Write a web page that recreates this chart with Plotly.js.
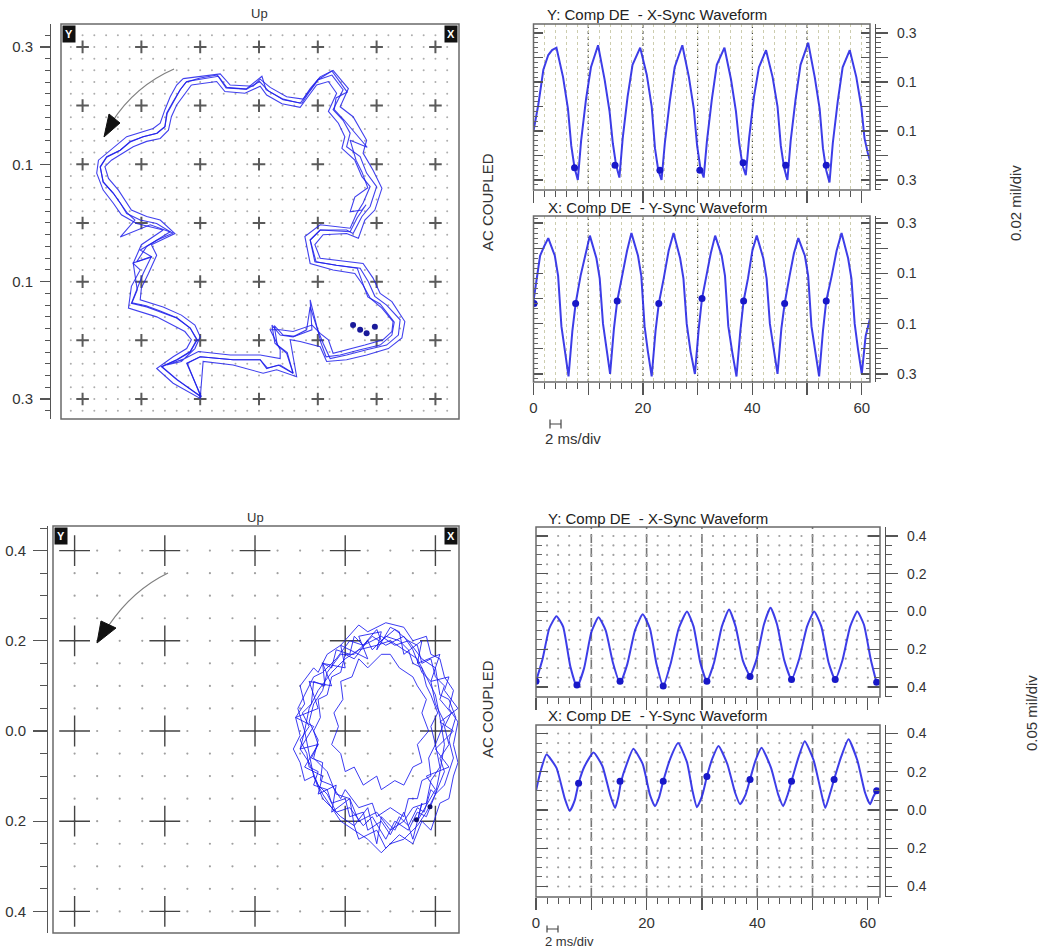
<!DOCTYPE html>
<html><head><meta charset="utf-8">
<script src="https://cdn.plot.ly/plotly-3.0.1.min.js"></script>
<style>html,body{margin:0;padding:0;background:#fff}#chart{width:1044px;height:949px}</style>
</head><body><div id="chart"></div>
<script>
// ================= DATA =================
// Top orbit (0.02 mil/div) - four overlapping laps
const orbitTopAx = [-0.123,-0.095,-0.069,-0.055,-0.021,0.001,0.016,0.041,0.073,0.084,0.101,0.124,0.143,0.126,0.143,0.155,0.149,0.172,0.183,0.200,0.189,0.175,0.160,0.149,0.104,0.087,0.095,0.132,0.172,0.186,0.197,0.217,0.240,0.237,0.217,0.183,0.149,0.121,0.109,0.098,0.087,0.081,0.058,0.036,0.022,0.027,0.047,0.058,0.033,0.013,0.002,-0.044,-0.100,-0.123,-0.098,-0.140,-0.166,-0.140,-0.117,-0.106,-0.117,-0.140,-0.168,-0.191,-0.217,-0.208,-0.197,-0.183,-0.208,-0.191,-0.174,-0.151,-0.174,-0.202,-0.225,-0.236,-0.248,-0.265,-0.270,-0.259,-0.236,-0.219,-0.197,-0.174,-0.160,-0.157,-0.146,-0.134,-0.123];
const orbitTopAy = [0.241,0.245,0.250,0.231,0.228,0.241,0.225,0.210,0.204,0.221,0.244,0.252,0.227,0.193,0.175,0.153,0.130,0.113,0.085,0.062,0.028,0.011,-0.018,-0.012,-0.012,-0.029,-0.066,-0.072,-0.077,-0.100,-0.125,-0.140,-0.165,-0.191,-0.208,-0.216,-0.225,-0.231,-0.205,-0.177,-0.143,-0.182,-0.194,-0.191,-0.174,-0.205,-0.222,-0.256,-0.242,-0.248,-0.233,-0.233,-0.228,-0.239,-0.296,-0.267,-0.245,-0.233,-0.219,-0.199,-0.179,-0.162,-0.151,-0.143,-0.137,-0.114,-0.086,-0.057,-0.066,-0.040,-0.029,-0.015,-0.001,0.005,0.016,0.034,0.051,0.070,0.096,0.113,0.124,0.139,0.147,0.153,0.164,0.187,0.207,0.227,0.241];
const orbitTopBx = [-0.129,-0.100,-0.066,-0.049,-0.010,0.002,0.019,0.047,0.075,0.087,0.104,0.126,0.152,0.138,0.160,0.183,0.177,0.194,0.209,0.197,0.180,0.169,0.149,0.109,0.095,0.104,0.177,0.194,0.206,0.226,0.248,0.243,0.220,0.183,0.149,0.115,0.104,0.070,0.053,0.064,0.030,0.007,-0.044,-0.095,-0.100,-0.146,-0.174,-0.146,-0.123,-0.115,-0.126,-0.174,-0.222,-0.217,-0.202,-0.214,-0.200,-0.163,-0.208,-0.234,-0.248,-0.265,-0.276,-0.273,-0.245,-0.225,-0.180,-0.168,-0.160,-0.151,-0.140,-0.129];
const orbitTopBy = [0.246,0.250,0.254,0.235,0.233,0.245,0.231,0.215,0.211,0.229,0.249,0.260,0.229,0.198,0.181,0.141,0.119,0.090,0.059,0.022,0.005,-0.026,-0.018,-0.020,-0.037,-0.060,-0.069,-0.094,-0.120,-0.134,-0.168,-0.196,-0.214,-0.225,-0.233,-0.236,-0.211,-0.202,-0.199,-0.262,-0.250,-0.256,-0.242,-0.236,-0.299,-0.273,-0.248,-0.228,-0.214,-0.199,-0.185,-0.160,-0.145,-0.108,-0.080,-0.069,-0.037,-0.012,-0.001,0.014,0.034,0.056,0.085,0.107,0.130,0.147,0.161,0.170,0.193,0.215,0.235,0.246];
const orbitTopCx = [-0.115,-0.089,-0.072,-0.058,-0.024,0.002,0.013,0.039,0.070,0.081,0.098,0.118,0.132,0.118,0.135,0.146,0.141,0.163,0.175,0.189,0.177,0.166,0.155,0.104,0.078,0.087,0.126,0.163,0.177,0.189,0.209,0.228,0.226,0.211,0.180,0.126,0.118,0.104,0.090,0.058,0.036,0.019,0.036,0.036,0.002,-0.049,-0.103,-0.126,-0.157,-0.132,-0.109,-0.100,-0.109,-0.132,-0.163,-0.202,-0.200,-0.188,-0.174,-0.183,-0.143,-0.168,-0.191,-0.217,-0.228,-0.239,-0.256,-0.262,-0.251,-0.231,-0.214,-0.191,-0.168,-0.154,-0.149,-0.140,-0.126,-0.115];
const orbitTopCy = [0.235,0.238,0.241,0.224,0.221,0.233,0.218,0.203,0.197,0.212,0.235,0.241,0.221,0.190,0.170,0.147,0.127,0.107,0.079,0.062,0.034,0.016,-0.009,-0.003,-0.023,-0.069,-0.080,-0.086,-0.106,-0.128,-0.145,-0.168,-0.185,-0.199,-0.208,-0.222,-0.199,-0.188,-0.174,-0.185,-0.182,-0.182,-0.216,-0.231,-0.225,-0.225,-0.219,-0.231,-0.242,-0.236,-0.214,-0.194,-0.174,-0.157,-0.143,-0.131,-0.111,-0.086,-0.055,-0.037,-0.018,0.005,0.011,0.022,0.039,0.056,0.076,0.096,0.107,0.119,0.130,0.139,0.144,0.158,0.181,0.201,0.221,0.235];
const orbitTopDx = [-0.124,-0.100,-0.071,-0.056,-0.022,-0.002,0.005,0.012,0.041,0.070,0.083,0.100,0.124,0.150,0.131,0.128,0.145,0.184,0.155,0.165,0.175,0.185,0.163,0.155,0.175,0.182,0.167,0.155,0.104,0.087,0.097,0.131,0.167,0.175,0.185,0.206,0.230,0.226,0.206,0.172,0.138,0.114,0.105,0.087,0.090,0.061,0.041,0.026,0.031,0.048,0.058,0.036,0.014,0.002,-0.044,-0.100,-0.122,-0.099,-0.139,-0.165,-0.139,-0.117,-0.105,-0.117,-0.139,-0.168,-0.192,-0.216,-0.207,-0.214,-0.182,-0.202,-0.173,-0.146,-0.185,-0.236,-0.211,-0.224,-0.236,-0.248,-0.265,-0.270,-0.259,-0.236,-0.219,-0.197,-0.173,-0.160,-0.156,-0.146,-0.134,-0.124];
const orbitTopDy = [0.240,0.247,0.252,0.230,0.228,0.244,0.250,0.227,0.211,0.204,0.221,0.244,0.259,0.223,0.213,0.193,0.175,0.129,0.141,0.107,0.087,0.060,0.044,0.019,0.022,0.031,0.009,-0.015,-0.012,-0.029,-0.066,-0.072,-0.077,-0.099,-0.126,-0.138,-0.169,-0.191,-0.208,-0.216,-0.225,-0.228,-0.203,-0.131,-0.182,-0.193,-0.191,-0.175,-0.208,-0.221,-0.256,-0.242,-0.247,-0.233,-0.233,-0.228,-0.239,-0.296,-0.267,-0.245,-0.233,-0.220,-0.199,-0.179,-0.162,-0.150,-0.141,-0.136,-0.114,-0.068,-0.058,-0.046,-0.029,-0.017,-0.003,-0.024,0.005,0.017,0.034,0.051,0.070,0.095,0.112,0.124,0.138,0.147,0.153,0.164,0.187,0.206,0.227,0.240];
const orbitTopDotX = [0.160,0.172,0.183,0.197];
const orbitTopDotY = [-0.174,-0.182,-0.188,-0.177];

// Bottom orbit (0.05 mil/div) - overlapping noisy laps
const orbitBot1x = [0.31,0.28,0.27,0.24,0.22,0.21,0.18,0.17,0.15,0.155,0.13,0.125,0.105,0.12,0.10,0.115,0.12,0.14,0.13,0.16,0.17,0.20,0.21,0.24,0.25,0.28,0.30,0.32,0.34,0.36,0.375,0.39,0.40,0.42,0.41,0.43,0.42,0.435,0.41,0.42,0.40,0.39,0.37,0.36,0.34,0.31];
const orbitBot1y = [0.225,0.20,0.225,0.19,0.21,0.17,0.18,0.14,0.15,0.10,0.11,0.06,0.04,0.01,-0.02,-0.05,-0.08,-0.09,-0.12,-0.13,-0.16,-0.15,-0.19,-0.18,-0.22,-0.20,-0.23,-0.19,-0.21,-0.17,-0.18,-0.13,-0.14,-0.09,-0.06,-0.03,0.01,0.04,0.07,0.10,0.12,0.16,0.15,0.19,0.20,0.225];
const orbitBot2x = [0.29,0.25,0.23,0.20,0.19,0.16,0.14,0.13,0.10,0.11,0.09,0.10,0.085,0.10,0.11,0.13,0.15,0.17,0.19,0.22,0.23,0.27,0.29,0.32,0.35,0.37,0.39,0.41,0.43,0.44,0.45,0.44,0.45,0.43,0.44,0.42,0.41,0.39,0.38,0.35,0.33,0.29];
const orbitBot2y = [0.24,0.22,0.235,0.20,0.19,0.17,0.13,0.14,0.10,0.06,0.03,-0.01,-0.04,-0.07,-0.11,-0.10,-0.15,-0.17,-0.19,-0.21,-0.24,-0.22,-0.26,-0.23,-0.25,-0.20,-0.22,-0.16,-0.15,-0.10,-0.07,-0.03,0.02,0.05,0.09,0.12,0.16,0.17,0.21,0.20,0.23,0.24];
const orbitBot3x = [0.32,0.29,0.26,0.25,0.22,0.20,0.19,0.17,0.16,0.14,0.145,0.13,0.14,0.125,0.15,0.145,0.17,0.19,0.20,0.23,0.26,0.27,0.30,0.33,0.34,0.36,0.37,0.39,0.385,0.40,0.39,0.405,0.39,0.38,0.37,0.35,0.34,0.32];
const orbitBot3y = [0.20,0.21,0.18,0.20,0.16,0.17,0.13,0.12,0.08,0.07,0.03,0.00,-0.03,-0.06,-0.07,-0.11,-0.12,-0.15,-0.13,-0.17,-0.16,-0.19,-0.17,-0.19,-0.15,-0.15,-0.11,-0.10,-0.06,-0.03,0.01,0.04,0.08,0.10,0.14,0.15,0.18,0.20];
const orbitBot4x = [0.28,0.24,0.21,0.18,0.15,0.13,0.11,0.095,0.11,0.10,0.12,0.14,0.16,0.18,0.21,0.24,0.26,0.29,0.31,0.34,0.36,0.38,0.40,0.42,0.44,0.43,0.445,0.43,0.41,0.40,0.37,0.34,0.31,0.28];
const orbitBot4y = [0.21,0.19,0.20,0.16,0.13,0.12,0.08,0.05,0.00,-0.04,-0.07,-0.12,-0.14,-0.18,-0.17,-0.21,-0.19,-0.24,-0.20,-0.22,-0.18,-0.19,-0.14,-0.12,-0.06,-0.02,0.03,0.07,0.08,0.14,0.16,0.20,0.19,0.21];
const orbitBot5x = [0.30,0.27,0.28,0.23,0.25,0.19,0.20,0.15,0.17,0.12,0.14,0.09,0.13,0.10,0.14,0.11,0.15,0.14,0.18,0.17,0.21,0.22,0.25,0.27,0.28,0.31,0.33,0.35,0.37,0.36,0.40,0.38,0.43,0.40,0.44,0.41,0.45,0.42,0.43,0.39,0.41,0.36,0.37,0.33,0.32,0.30];
const orbitBot5y = [0.23,0.18,0.22,0.21,0.16,0.19,0.14,0.15,0.10,0.11,0.05,0.03,0.01,-0.04,-0.03,-0.08,-0.10,-0.14,-0.12,-0.18,-0.15,-0.21,-0.17,-0.25,-0.19,-0.22,-0.18,-0.24,-0.16,-0.20,-0.13,-0.10,-0.08,-0.04,0.00,0.02,0.05,0.09,0.12,0.11,0.17,0.15,0.20,0.17,0.22,0.23];
const orbitBot6x = [0.28,0.25,0.23,0.215,0.19,0.195,0.175,0.185,0.17,0.19,0.20,0.22,0.24,0.27,0.28,0.31,0.33,0.35,0.37,0.36,0.385,0.37,0.38,0.36,0.35,0.32,0.30,0.28];
const orbitBot6y = [0.17,0.14,0.16,0.12,0.11,0.07,0.04,0.01,-0.03,-0.05,-0.09,-0.08,-0.12,-0.10,-0.13,-0.11,-0.12,-0.08,-0.07,-0.03,0.00,0.04,0.07,0.10,0.12,0.14,0.17,0.17];
const orbitBot7x = [0.27,0.23,0.20,0.17,0.14,0.12,0.11,0.12,0.13,0.15,0.17,0.19,0.22,0.25,0.28,0.30,0.33,0.36,0.38,0.40,0.41,0.42,0.41,0.40,0.38,0.36,0.33,0.30,0.27];
const orbitBot7y = [0.19,0.18,0.16,0.13,0.09,0.05,0.00,-0.05,-0.10,-0.14,-0.17,-0.20,-0.22,-0.24,-0.27,-0.25,-0.24,-0.21,-0.18,-0.14,-0.09,-0.03,0.03,0.08,0.12,0.16,0.18,0.20,0.19];
const orbitBot8x = [0.33,0.29,0.26,0.22,0.19,0.16,0.15,0.13,0.12,0.14,0.13,0.16,0.18,0.21,0.23,0.27,0.30,0.33,0.35,0.38,0.39,0.41,0.40,0.42,0.40,0.39,0.37,0.35,0.33];
const orbitBot8y = [0.21,0.19,0.21,0.17,0.17,0.13,0.09,0.06,0.02,-0.02,-0.06,-0.09,-0.14,-0.15,-0.20,-0.18,-0.22,-0.20,-0.17,-0.16,-0.11,-0.08,-0.03,0.02,0.06,0.11,0.13,0.18,0.21];
const orbitBotDotX = [0.358,0.388];
const orbitBotDotY = [-0.197,-0.168];

// Top waveforms (time in ms)
const wTopY_t = [0,0.9,1.8,2.7,3.4,4.2,5.4,6.3,6.9,7.5,8.1,8.7,9.6,10.5,11.8,13.0,13.9,14.5,15.1,15.7,16.3,17.2,18.1,19.5,20.7,21.6,22.2,22.8,23.4,24.0,24.9,25.8,27.2,28.4,29.3,29.9,30.5,31.1,31.7,32.6,33.5,34.9,36.1,37.0,37.6,38.2,38.8,39.4,40.3,41.2,42.5,43.7,44.6,45.2,45.8,46.4,47.0,47.9,48.8,50.2,51.4,52.3,52.9,53.5,54.1,54.7,55.6,56.5,57.8,59.0,59.9,60.5,61.1,61.5];
const wTopY_v = [-0.10,0.01,0.15,0.21,0.23,0.24,0.12,-0.01,-0.16,-0.25,-0.30,-0.14,0.03,0.16,0.25,0.11,-0.02,-0.15,-0.24,-0.29,-0.13,0.04,0.17,0.24,0.13,0.00,-0.17,-0.26,-0.30,-0.15,0.02,0.16,0.25,0.12,-0.01,-0.16,-0.25,-0.29,-0.14,0.03,0.17,0.24,0.11,-0.02,-0.15,-0.24,-0.28,-0.13,0.04,0.16,0.23,0.12,0.00,-0.16,-0.25,-0.30,-0.14,0.03,0.17,0.26,0.12,-0.01,-0.17,-0.26,-0.31,-0.15,0.02,0.16,0.23,0.12,0.00,-0.13,-0.19,-0.22];
const wTopY_dotT = [7.5,14.9,23.1,30.4,38.3,46.1,53.5];
const wTopY_dotV = [-0.25,-0.24,-0.26,-0.26,-0.23,-0.24,-0.24];

const wTopX_t = [0,0.6,1.2,2.0,2.7,3.9,4.5,5.1,5.7,6.4,7.1,7.7,8.6,9.5,10.3,11.5,12.1,12.7,13.3,14.0,14.7,15.3,16.2,17.1,17.9,19.1,19.7,20.3,20.9,21.6,22.3,22.9,23.8,24.7,25.6,26.8,27.4,28.0,28.7,29.5,30.2,30.8,31.6,32.4,33.2,34.4,35.0,35.6,36.3,37.1,37.8,38.4,39.2,40.0,40.8,42.0,42.6,43.2,43.9,44.6,45.3,45.9,46.8,47.6,48.4,49.6,50.2,50.8,51.5,52.2,52.9,53.5,54.5,55.4,56.3,57.5,58.1,58.7,59.3,60.0,60.7,61.5];
const wTopX_v = [-0.01,0.08,0.17,0.21,0.24,0.17,0.09,-0.11,-0.21,-0.31,-0.13,-0.02,0.09,0.18,0.25,0.16,0.08,-0.10,-0.20,-0.30,-0.12,-0.01,0.09,0.19,0.26,0.17,0.09,-0.11,-0.21,-0.31,-0.13,-0.02,0.08,0.19,0.26,0.16,0.08,-0.10,-0.21,-0.30,-0.12,0.00,0.09,0.18,0.25,0.17,0.09,-0.11,-0.21,-0.31,-0.13,-0.01,0.08,0.19,0.25,0.16,0.08,-0.10,-0.20,-0.30,-0.12,-0.02,0.09,0.18,0.24,0.17,0.09,-0.11,-0.21,-0.31,-0.13,-0.01,0.09,0.19,0.26,0.16,0.08,-0.10,-0.20,-0.30,-0.15,-0.08];
const wTopX_dotT = [0.1,7.7,15.3,22.9,30.8,38.4,45.9,53.5];
const wTopX_dotV = [-0.02,-0.02,-0.01,-0.02,0.00,-0.01,-0.02,-0.01];

// Bottom waveforms
const wBotY_t = [0,1.2,2.4,3.7,4.9,6.2,7.4,8.7,10.0,11.3,12.6,13.9,15.2,16.5,17.9,19.3,20.6,21.8,23.0,24.4,25.8,27.3,28.5,29.7,30.9,32.2,33.6,34.9,36.1,37.4,38.7,39.9,41.2,42.4,43.6,44.9,46.2,47.6,49.0,50.3,51.6,52.9,54.1,55.4,56.8,58.1,59.3,60.5,61.6];
const wBotY_v = [-0.37,-0.25,-0.09,-0.025,-0.08,-0.29,-0.40,-0.30,-0.11,-0.03,-0.10,-0.27,-0.38,-0.28,-0.10,-0.015,-0.09,-0.28,-0.395,-0.27,-0.09,0.0,-0.08,-0.27,-0.37,-0.27,-0.08,0.01,-0.08,-0.26,-0.34,-0.25,-0.07,0.02,-0.07,-0.26,-0.36,-0.25,-0.08,0.0,-0.08,-0.27,-0.36,-0.26,-0.08,0.0,-0.07,-0.25,-0.38];
const wBotY_dotT = [0,7.4,15.2,23.0,30.9,38.7,46.2,54.1,61.6];
const wBotY_dotV = [-0.37,-0.39,-0.37,-0.395,-0.37,-0.345,-0.36,-0.36,-0.375];

const wBotX_t = [0,0.8,1.9,3.7,5.2,6.1,7.0,7.7,8.8,10.4,12.0,13.4,14.3,14.9,15.4,16.4,17.6,19.3,20.6,21.5,22.3,23.0,24.3,25.7,27.3,28.3,29.1,30.1,30.9,31.9,33.0,34.6,36.0,36.9,37.9,38.7,39.7,40.8,42.5,43.8,44.7,45.5,46.2,47.4,48.6,50.2,51.5,52.3,53.2,53.9,55.2,56.5,58.1,59.5,60.4,61.0,61.6];
const wBotX_v = [0.10,0.20,0.29,0.22,0.06,-0.005,0.05,0.14,0.23,0.30,0.23,0.08,0.01,0.07,0.15,0.24,0.32,0.24,0.08,0.02,0.07,0.15,0.27,0.35,0.25,0.10,0.015,0.08,0.175,0.27,0.335,0.24,0.09,0.03,0.08,0.16,0.26,0.325,0.22,0.08,0.02,0.08,0.15,0.27,0.36,0.26,0.10,0.01,0.09,0.16,0.28,0.37,0.26,0.09,0.03,0.07,0.10];
const wBotX_dotT = [7.7,15.2,23.0,30.9,38.7,46.2,53.9,61.6];
const wBotX_dotV = [0.14,0.15,0.15,0.175,0.16,0.15,0.16,0.10];

// Tick labels / divisions
const topOrbitTickVals = [0.3,0.1,-0.1,-0.3];
const topOrbitTickText = ['0.3','0.1','0.1','0.3'];
const botOrbitTickVals = [0.4,0.2,0,-0.2,-0.4];
const botOrbitTickText = ['0.4','0.2','0.0','0.2','0.4'];
const topWaveTickVals = [0.3,0.2,0.1,0,-0.1,-0.2,-0.3];
const topWaveTickText = ['0.3','','0.1','','0.1','','0.3'];
const botWaveTickVals = [0.4,0.2,0,-0.2,-0.4];
const botWaveTickText = ['0.4','0.2','0.0','0.2','0.4'];
const timeTickVals = [0,10,20,30,40,50,60];
const timeTickText = ['0','','20','','40','','60'];
const timeDivLines = [10,20,30,40,50];

// ================= LAYOUT HELPERS =================
const W = 1044, H = 949;
const domX = (a, b) => [a / W, b / W];
const domY = (top, bot) => [1 - bot / H, 1 - top / H];
const px = (x, y) => (x / W).toFixed(5) + ',' + (1 - y / H).toFixed(5);
const FONT = 'Liberation Sans, Arial, sans-serif';
const AX = '#555';

// decoration grids (built from the division steps)
function lattice(lo, hi, step) {
  const xs = [], ys = [];
  const n = Math.round((hi - lo) / step);
  for (let i = 0; i <= n; i++) for (let j = 0; j <= n; j++) { xs.push(lo + i * step); ys.push(lo + j * step); }
  return [xs, ys];
}
function lattice2(x0, x1, xs, y0, y1, ys) {
  const X = [], Y = [];
  const nx = Math.round((x1 - x0) / xs), ny = Math.round((y1 - y0) / ys);
  for (let i = 0; i <= nx; i++) for (let j = 0; j <= ny; j++) { X.push(x0 + i * xs); Y.push(y0 + j * ys); }
  return [X, Y];
}
const [topDotsX, topDotsY] = lattice(-0.32, 0.32, 0.02);
const [topCrossX, topCrossY] = lattice(-0.3, 0.3, 0.1);
const [botDotsX, botDotsY] = lattice(-0.4, 0.4, 0.05);
const [botCrossX, botCrossY] = lattice(-0.4, 0.4, 0.2);
const [wDotsX, wDotsY] = lattice2(2, 60, 2, -0.4, 0.4, 0.05);

const traces = [];
// top orbit
traces.push({x: topDotsX, y: topDotsY, xaxis: 'x', yaxis: 'y', mode: 'markers', marker: {size: 2, color: '#adadad'}, hoverinfo: 'skip'});
traces.push({x: topCrossX, y: topCrossY, xaxis: 'x', yaxis: 'y', mode: 'markers', marker: {symbol: 'cross-thin', size: 9, line: {width: 2, color: '#5a5a5a'}}, hoverinfo: 'skip'});
[[orbitTopBx, orbitTopBy], [orbitTopAx, orbitTopAy], [orbitTopCx, orbitTopCy], [orbitTopDx, orbitTopDy]].forEach(([xx, yy]) =>
  traces.push({x: xx, y: yy, xaxis: 'x', yaxis: 'y', mode: 'lines', line: {color: 'rgba(30,30,235,0.85)', width: 1.1}, hoverinfo: 'skip'}));
traces.push({x: orbitTopDotX, y: orbitTopDotY, xaxis: 'x', yaxis: 'y', mode: 'markers', marker: {size: 6, color: '#1a1a9a'}, hoverinfo: 'skip'});
// bottom orbit
traces.push({x: botDotsX, y: botDotsY, xaxis: 'x4', yaxis: 'y4', mode: 'markers', marker: {size: 2.2, color: '#a0a0a0'}, hoverinfo: 'skip'});
traces.push({x: botCrossX, y: botCrossY, xaxis: 'x4', yaxis: 'y4', mode: 'markers', marker: {symbol: 'cross-thin', size: 22, line: {width: 1.4, color: '#444'}}, hoverinfo: 'skip'});
[[orbitBot1x, orbitBot1y], [orbitBot2x, orbitBot2y], [orbitBot3x, orbitBot3y], [orbitBot4x, orbitBot4y], [orbitBot5x, orbitBot5y],
 [orbitBot6x, orbitBot6y], [orbitBot7x, orbitBot7y], [orbitBot8x, orbitBot8y]].forEach(([xx, yy]) =>
  traces.push({x: xx, y: yy, xaxis: 'x4', yaxis: 'y4', mode: 'lines', line: {color: 'rgba(25,25,240,0.85)', width: 1}, hoverinfo: 'skip'}));
traces.push({x: orbitBotDotX, y: orbitBotDotY, xaxis: 'x4', yaxis: 'y4', mode: 'markers', marker: {size: 5, color: '#10106a'}, hoverinfo: 'skip'});

// waveforms
function wave(t, v, dt, dv, xa, ya, lineShape) {
  traces.push({x: t, y: v, xaxis: xa, yaxis: ya, mode: 'lines', line: {color: 'rgba(40,40,230,0.9)', width: 2, shape: lineShape, smoothing: 0.5}, hoverinfo: 'skip'});
  traces.push({x: dt, y: dv, xaxis: xa, yaxis: ya, mode: 'markers', marker: {size: 7, color: '#1818c8'}, hoverinfo: 'skip'});
}
traces.push({x: wDotsX, y: wDotsY, xaxis: 'x5', yaxis: 'y5', mode: 'markers', marker: {size: 2.2, color: '#a0a0a0'}, hoverinfo: 'skip'});
traces.push({x: wDotsX, y: wDotsY, xaxis: 'x6', yaxis: 'y6', mode: 'markers', marker: {size: 2.2, color: '#a0a0a0'}, hoverinfo: 'skip'});
wave(wTopY_t, wTopY_v, wTopY_dotT, wTopY_dotV, 'x2', 'y2', 'linear');
wave(wTopX_t, wTopX_v, wTopX_dotT, wTopX_dotV, 'x3', 'y3', 'linear');
wave(wBotY_t, wBotY_v, wBotY_dotT, wBotY_dotV, 'x5', 'y5', 'spline');
wave(wBotX_t, wBotX_v, wBotX_dotT, wBotX_dotV, 'x6', 'y6', 'spline');
// empty traces to carry the inside tick ladders
[['x2','y7'],['x3','y8'],['x5','y9'],['x6','y10']].forEach(([xa, ya]) =>
  traces.push({x: [], y: [], xaxis: xa, yaxis: ya, mode: 'markers', hoverinfo: 'skip'}));

// ---- axes ----
function orbitX(dom, range, anchor) {
  return {domain: dom, range, anchor, showticklabels: false, ticks: '', showline: false, showgrid: false, zeroline: false, fixedrange: true};
}
function ladderY(dom, range, pos, side, vals, text, len, mdt, mlen, fs, standoff) {
  return {domain: dom, range, anchor: 'free', position: pos, side, showline: true, linecolor: AX, linewidth: 1.3,
    ticks: 'outside', tickmode: 'array', tickvals: vals, ticktext: text, ticklen: len, tickwidth: 1.3, tickcolor: AX,
    ticklabelstandoff: standoff,
    minor: {dtick: mdt, tick0: 0, ticklen: mlen, tickwidth: 1, tickcolor: AX, ticks: 'outside'},
    showgrid: false, zeroline: false, tickfont: {family: FONT, size: fs, color: '#333'}, fixedrange: true};
}
function timeX(dom, range, anchor, labels, minorGrid) {
  return {domain: dom, range, anchor, showline: false, showgrid: false, zeroline: false,
    ticks: 'outside', tickmode: 'array', tickvals: timeTickVals, ticktext: labels ? timeTickText : timeTickVals.map(() => ''),
    ticklen: 12, tickwidth: 1.3, tickcolor: AX,
    minor: {dtick: 2, tick0: 0, ticklen: 6, tickwidth: 1, tickcolor: AX, ticks: 'outside', showgrid: minorGrid, griddash: 'dot', gridcolor: '#cdcdae', gridwidth: 1},
    tickfont: {family: FONT, size: 15, color: '#333'}, fixedrange: true};
}
function insideY(over, anchor, range, dt, len, mdt, mlen) {
  return {overlaying: over, anchor, side: 'left', range, showline: false, showgrid: false, zeroline: false, showticklabels: false,
    ticks: 'inside', tickmode: 'linear', tick0: 0, dtick: dt, ticklen: len, tickwidth: 1.2, tickcolor: AX, mirror: 'ticks',
    minor: {dtick: mdt, tick0: 0, ticklen: mlen, tickwidth: 1, tickcolor: '#666', ticks: 'inside'}, fixedrange: true};
}

const dTopOrbitX = domX(61, 459), dTopOrbitY = domY(24, 419);
const dBotOrbitX = domX(53, 459), dBotOrbitY = domY(526, 933);
const dTopWaveX = domX(533.5, 870), dTopWY = domY(24, 190), dTopWX = domY(216, 382);
const dBotWaveX = domX(536, 880), dBotWY = domY(527, 697), dBotWX = domY(725, 897);
const rTopY = [-0.3408, 0.3367], rTopX = [-0.332, 0.328];
const rBotY = [-0.453, 0.4477], rBotX = [-0.4549, 0.4444];

const layout = {
  width: W, height: H, margin: {l: 0, r: 0, t: 0, b: 0}, paper_bgcolor: '#fff', plot_bgcolor: '#fff',
  showlegend: false, hovermode: false, font: {family: FONT, color: '#333'},
  xaxis: orbitX(dTopOrbitX, [-0.3367, 0.3401], 'y'),
  yaxis: ladderY(dTopOrbitY, [-0.334, 0.339], 50 / W, 'left', topOrbitTickVals, topOrbitTickText, 10, 0.02, 5, 15, 4),
  xaxis4: orbitX(dBotOrbitX, [-0.4479, 0.4523], 'y4'),
  yaxis4: ladderY(dBotOrbitY, [-0.4479, 0.4545], 47 / W, 'left', botOrbitTickVals, botOrbitTickText, 14, 0.05, 7, 15, 4),
  xaxis2: timeX(dTopWaveX, [0, 61.5], 'y2', false, true),
  yaxis2: ladderY(dTopWY, rTopY, 875 / W, 'right', topWaveTickVals, topWaveTickText, 12, 0.02, 5, 14, 6),
  xaxis3: timeX(dTopWaveX, [0, 61.5], 'y3', true, true),
  yaxis3: ladderY(dTopWX, rTopX, 875 / W, 'right', topWaveTickVals, topWaveTickText, 12, 0.02, 5, 14, 6),
  xaxis5: timeX(dBotWaveX, [0, 62.2], 'y5', false, false),
  yaxis5: ladderY(dBotWY, rBotY, 885 / W, 'right', botWaveTickVals, botWaveTickText, 12, 0.05, 6, 14, 6),
  xaxis6: timeX(dBotWaveX, [0, 62.2], 'y6', true, false),
  yaxis6: ladderY(dBotWX, rBotX, 885 / W, 'right', botWaveTickVals, botWaveTickText, 12, 0.05, 6, 14, 6),
  yaxis7: insideY('y2', 'x2', rTopY, 0.1, 9, 0.02, 4),
  yaxis8: insideY('y3', 'x3', rTopX, 0.1, 9, 0.02, 4),
  yaxis9: insideY('y5', 'x5', rBotY, 0.2, 12, 0.05, 6),
  yaxis10: insideY('y6', 'x6', rBotX, 0.2, 12, 0.05, 6),
  shapes: [],
  annotations: []
};

// panel frames
[['x','y'],['x4','y4'],['x2','y2'],['x3','y3'],['x5','y5'],['x6','y6']].forEach(([xa, ya]) =>
  layout.shapes.push({type: 'rect', xref: xa + ' domain', yref: ya + ' domain', x0: 0, x1: 1, y0: 0, y1: 1, line: {color: '#6a6a6a', width: 1.5}, layer: 'above'}));
// division lines in waveform panels
[['x2','y2','3px,3px','#222',1],['x3','y3','3px,3px','#222',1],['x5','y5','9px,5px','#777',1.6],['x6','y6','9px,5px','#777',1.6]].forEach(([xa, ya, dash, col, w]) =>
  timeDivLines.forEach(v => layout.shapes.push({type: 'line', xref: xa, yref: ya + ' domain', x0: v, x1: v, y0: 0, y1: 1, line: {color: col, width: w, dash}, layer: 'below'})));
// rotation arrows
layout.shapes.push({type: 'path', xref: 'paper', yref: 'paper', path: 'M' + px(174, 69) + ' Q' + px(135, 86) + ' ' + px(112, 122), line: {color: '#808080', width: 1.3}});
layout.shapes.push({type: 'path', xref: 'paper', yref: 'paper', path: 'M' + px(104, 137) + ' L' + px(109, 114) + ' L' + px(120, 123) + ' Z', fillcolor: '#111', line: {color: '#111', width: 1}});
layout.shapes.push({type: 'path', xref: 'paper', yref: 'paper', path: 'M' + px(168, 573) + ' Q' + px(133, 590) + ' ' + px(109, 625), line: {color: '#808080', width: 1.3}});
layout.shapes.push({type: 'path', xref: 'paper', yref: 'paper', path: 'M' + px(97, 643) + ' L' + px(101, 621) + ' L' + px(116, 628) + ' Z', fillcolor: '#111', line: {color: '#111', width: 1}});
// 2 ms/div scale bars
function scaleBar(x0, x1, ym, h) {
  layout.shapes.push({type: 'path', xref: 'paper', yref: 'paper',
    path: 'M' + px(x0, ym - h) + ' L' + px(x0, ym + h) + ' M' + px(x1, ym - h) + ' L' + px(x1, ym + h) + ' M' + px(x0, ym) + ' L' + px(x1, ym),
    line: {color: '#444', width: 1.2}});
}
scaleBar(550, 561, 424, 4.5);
scaleBar(547, 558, 929, 3.5);

// texts
function txt(text, x, y, opts) {
  layout.annotations.push(Object.assign({text, xref: 'paper', yref: 'paper', x: x / W, y: 1 - y / H, showarrow: false,
    xanchor: 'center', yanchor: 'middle', font: {family: FONT, size: 15, color: '#333'}}, opts || {}));
}
txt('Up', 259, 13, {font: {family: FONT, size: 13, color: '#333'}});
txt('Up', 255, 517, {font: {family: FONT, size: 13, color: '#333'}});
function tag(label, xa, ya, right) {
  layout.annotations.push({text: '<b>' + label + '</b>', xref: xa + ' domain', yref: ya + ' domain', x: right ? 0.998 : 0.003, y: 0.997,
    xanchor: right ? 'right' : 'left', yanchor: 'top', showarrow: false, bgcolor: '#111', borderpad: 2,
    font: {family: FONT, size: 11, color: '#fff'}});
}
tag('Y', 'x', 'y', false); tag('X', 'x', 'y', true);
tag('Y', 'x4', 'y4', false); tag('X', 'x4', 'y4', true);
const nb = '\u00a0';
const titleFont = {family: FONT, size: 15, color: '#222'};
txt('Y: Comp DE ' + nb + '- X-Sync Waveform', 545, 14, {xanchor: 'left', font: titleFont});
txt('X: Comp DE ' + nb + '- Y-Sync Waveform', 546, 207, {xanchor: 'left', font: titleFont});
txt('Y: Comp DE ' + nb + '- X-Sync Waveform', 546, 518, {xanchor: 'left', font: titleFont});
txt('X: Comp DE ' + nb + '- Y-Sync Waveform', 546, 715, {xanchor: 'left', font: titleFont});
txt('AC COUPLED', 487, 202, {textangle: -90});
txt('AC COUPLED', 487, 709, {textangle: -90});
txt('0.02 mil/div', 1015, 203, {textangle: -90});
txt('0.05 mil/div', 1031, 713, {textangle: -90});
txt('2 ms/div', 543, 438, {xanchor: 'left'});
txt('2 ms/div', 543, 941, {xanchor: 'left', font: {family: FONT, size: 13, color: '#333'}});

Plotly.newPlot('chart', traces, layout, {staticPlot: true, displayModeBar: false});
</script>
</body></html>
